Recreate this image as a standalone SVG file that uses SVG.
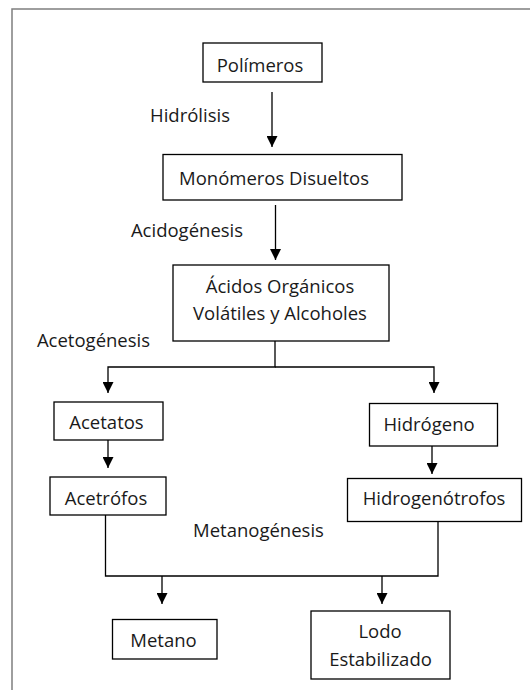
<svg xmlns="http://www.w3.org/2000/svg" width="530" height="690" viewBox="0 0 530 690">
<style>
.box{fill:#fff;stroke:#000;stroke-width:1.3}
.t{font-family:"Open Sans","Liberation Sans",sans-serif;font-size:18.5px;fill:#1a1a1a;text-anchor:middle}
.c{fill:none;stroke:#000;stroke-width:1.3}
.a{marker-end:url(#ah)}
</style>
<defs>
<marker id="ah" markerUnits="userSpaceOnUse" markerWidth="11" markerHeight="11" viewBox="0 0 11 11" refX="11" refY="5.5" orient="auto">
<path d="M0,0 L11,5.5 L0,11 z" fill="#000"/>
</marker>
</defs>
<rect width="530" height="690" fill="#fff"/>
<path d="M12,690 V9 H530" fill="none" stroke="#7f7f7f" stroke-width="1.5"/>
<g id="connectors">
<path class="c a" d="M272,92 V147"/>
<path class="c a" d="M275.5,205 V260"/>
<path class="c a" d="M275,341 V367 H108 V393"/>
<path class="c a" d="M275,367 H434 V393"/>
<path class="c a" d="M108,440 V468"/>
<path class="c a" d="M432,446 V474"/>
<path class="c" d="M105.5,515 V576 H438 V522"/>
<path class="c a" d="M162,576 V604"/>
<path class="c a" d="M382,576 V604"/>
</g>
<g id="labels">
<text class="t" x="190" y="122">Hidrólisis</text>
<text class="t" x="187" y="236.5">Acidogénesis</text>
<text class="t" x="93.5" y="346.5">Acetogénesis</text>
<text class="t" x="258.5" y="536.5">Metanogénesis</text>
</g>
<g id="polimeros">
<rect class="box" x="203" y="43" width="119" height="39"/>
<text class="t" x="260" y="71.5">Polímeros</text>
</g>
<g id="monomeros">
<rect class="box" x="163" y="154.5" width="239" height="45.5"/>
<text class="t" x="274" y="185">Monómeros Disueltos</text>
</g>
<g id="acidos">
<rect class="box" x="173" y="265" width="216" height="76"/>
<text class="t" x="280" y="293">Ácidos Orgánicos</text>
<text class="t" x="280" y="320">Volátiles y Alcoholes</text>
</g>
<g id="acetatos">
<rect class="box" x="54" y="402" width="109" height="38"/>
<text class="t" x="106.5" y="429">Acetatos</text>
</g>
<g id="hidrogeno">
<rect class="box" x="369.5" y="403.5" width="128" height="42.5"/>
<text class="t" x="429" y="431">Hidrógeno</text>
</g>
<g id="acetrofos">
<rect class="box" x="50" y="477" width="116" height="38"/>
<text class="t" x="106" y="505">Acetrófos</text>
</g>
<g id="hidrogenotrofos">
<rect class="box" x="347.5" y="478.5" width="174" height="43"/>
<text class="t" x="434" y="505">Hidrogenótrofos</text>
</g>
<g id="metano">
<rect class="box" x="112.5" y="619.5" width="104.5" height="39.5"/>
<text class="t" x="163.5" y="646.5">Metano</text>
</g>
<g id="lodo">
<rect class="box" x="311" y="611" width="139" height="68"/>
<text class="t" x="380" y="638">Lodo</text>
<text class="t" x="380.5" y="666">Estabilizado</text>
</g>
</svg>
